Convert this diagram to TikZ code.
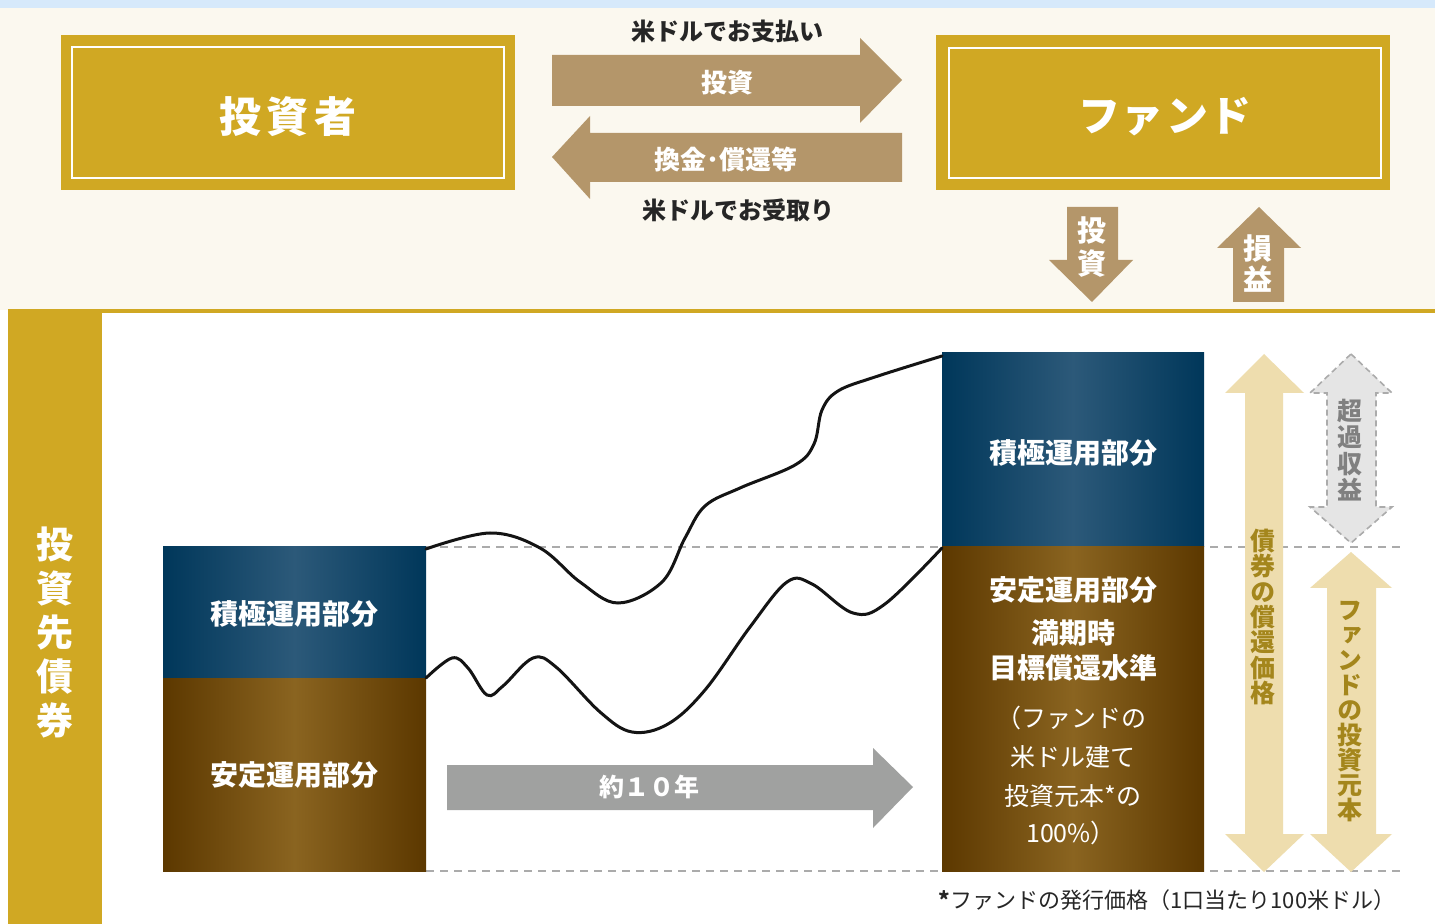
\documentclass[tikz,border=0pt]{standalone}
\usepackage{fontspec}
\setmainfont{Noto Sans CJK JP}
\newfontfamily\jpv{Noto Sans CJK JP}[RawFeature=+vert]
\definecolor{bgblue}{HTML}{D6E9FB}
\definecolor{cream}{HTML}{FBF8EF}
\definecolor{gold}{HTML}{D0A823}
\definecolor{tan}{HTML}{B4966A}
\definecolor{lighttan}{HTML}{EEDDAE}
\definecolor{grayarrow}{HTML}{A0A1A0}
\definecolor{lightgray}{HTML}{E5E5E5}
\definecolor{dashgray}{HTML}{ABABAB}
\definecolor{bluedark}{HTML}{00375A}
\definecolor{bluelight}{HTML}{2C5979}
\definecolor{browndark}{HTML}{5C3800}
\definecolor{brownlight}{HTML}{8A6420}
\definecolor{goldtext}{HTML}{A4861C}
\definecolor{textdark}{HTML}{262626}
\tikzset{
  lbl/.style={inner sep=0pt, font=\bfseries\fontsize{12}{14}\selectfont, text=textdark},
  wlbl/.style={inner sep=0pt, font=\bfseries\fontsize{13}{15}\selectfont, text=white},
  boxlbl/.style={inner sep=0pt, font=\bfseries\fontsize{14}{16}\selectfont, text=white},
  sublbl/.style={inner sep=0pt, font=\fontsize{12.5}{14}\selectfont, text=white},
  vlbl/.style={inner sep=0pt, align=center},
  curve/.style={line width=1.5pt, draw=black!92, line cap=round},
  dline/.style={draw=dashgray, line width=0.6pt, dash pattern=on 4pt off 3pt},
}
\begin{document}
\begin{tikzpicture}[x=0.5pt,y=-0.5pt]
\useasboundingbox (0,0) rectangle (1435,924);
% backgrounds
\fill[white] (0,0) rectangle (1435,924);
\fill[bgblue] (0,0) rectangle (1435,8);
\fill[cream] (0,8) rectangle (1435,310);
\fill[gold] (8,309) rectangle (1435,313);
\fill[gold] (8,309) rectangle (102,924);
% top boxes
\fill[gold] (61,35) rectangle (515,190);
\draw[white, line width=0.8pt] (72,47) rectangle (504,178);
\node[inner sep=0pt, text=white, font=\bfseries\fontsize{21}{24}\selectfont] (inv) at (288,117) {投\hspace{3pt}資\hspace{3pt}者};
\fill[gold] (936,35) rectangle (1390,190);
\draw[white, line width=0.8pt] (949,48) rectangle (1381,178);
\node[inner sep=0pt, text=white, font=\bfseries\fontsize{21}{24}\selectfont] (fund) at (1165,117) {フ\hspace{1pt}ァ\hspace{1pt}ン\hspace{1pt}ド};
% top arrows
\fill[tan] (552,55) -- (860,55) -- (860,38) -- (902,80) -- (860,123) -- (860,106) -- (552,106) -- cycle;
\fill[tan] (902,133) -- (590,133) -- (590,116) -- (552,157) -- (590,199) -- (590,182) -- (902,182) -- cycle;
\node[lbl] (pay) at (727,31) {米ドルでお支払い};
\node[wlbl] (inv1) at (727,83) {投資};
\node[wlbl] (ret) at (726,160) {換金･償還等};
\node[lbl] (recv) at (738,210) {米ドルでお受取り};
% fund down/up arrows
\fill[tan] (1067,207) -- (1118,207) -- (1118,260) -- (1133,260) -- (1092,302) -- (1049,260) -- (1067,260) -- cycle;
\node[vlbl, text=white, font={\bfseries\fontsize{14.5}{16.5}\selectfont\lineskiplimit=-20pt}] (dinv) at (1092,247) {投\\資};
\fill[tan] (1233,302) -- (1284,302) -- (1284,248) -- (1301,248) -- (1259,207) -- (1217,248) -- (1233,248) -- cycle;
\node[vlbl, text=white, font={\bfseries\fontsize{14.5}{15.5}\selectfont\lineskiplimit=-20pt}] (pl) at (1258,264) {損\\益};
% left gold bar label
\node[vlbl, text=white, font={\bfseries\fontsize{18.5}{22}\selectfont\lineskiplimit=-20pt}] (bond) at (55,632) {投\\資\\先\\債\\券};
% dashed reference lines
\draw[dline] (426,547) -- (1400,547);
\draw[dline] (426,871) -- (1400,871);
% left stacked box
\shade[left color=bluedark, right color=bluedark, middle color=bluelight] (163,547) rectangle (426,678);
\shade[left color=browndark, right color=browndark, middle color=brownlight] (163,678) rectangle (426,871);
\node[boxlbl] (lact) at (294,614) {積極運用部分};
\node[boxlbl] (lsta) at (294,775) {安定運用部分};
% right stacked box
\shade[left color=bluedark, right color=bluedark, middle color=bluelight] (942,353) rectangle (1204,547);
\shade[left color=browndark, right color=browndark, middle color=brownlight] (942,547) rectangle (1204,871);
\node[boxlbl] (ract) at (1073,453) {積極運用部分};
\node[boxlbl] (rsta) at (1073,590) {安定運用部分};
\node[boxlbl] (mat) at (1073,633) {満期時};
\node[boxlbl] (tgt) at (1073,668) {目標償還水準};
\node[sublbl] (p1) at (1071,718) {（ファンドの};
\node[sublbl] (p2) at (1073,757) {米ドル建て};
\node[sublbl] (p3) at (1073,796) {投資元本*の};
\node[sublbl] (p4) at (1071,833) {100\%）};
% curves
\draw[curve] plot[smooth, tension=0.6] coordinates {(426,549) (490,533) (540,548) (580,582) (618,603) (662,582) (685,538) (705,506) (740,488) (795,465) (814,444) (822,410) (838,391) (875,377) (942,356)};
\draw[curve] plot[smooth, tension=0.6] coordinates {(426,678) (452,658) (468,668) (487,695) (503,686) (533,658) (556,667) (600,712) (632,732) (668,724) (705,690) (750,627) (787,582) (812,584) (853,613) (885,604) (942,548)};
% period arrow
\fill[grayarrow] (447,765) -- (873,765) -- (873,748) -- (913,787) -- (873,828) -- (873,810) -- (447,810) -- cycle;
\node[inner sep=0pt, text=white, font=\bfseries\fontsize{12.5}{15}\selectfont] (yrs) at (649,787) {約１０年};
% right double arrows
\fill[lighttan] (1264,354) -- (1304,393) -- (1283,393) -- (1283,834) -- (1304,834) -- (1264,872) -- (1225,834) -- (1245,834) -- (1245,393) -- (1225,393) -- cycle;
\node[vlbl, text=goldtext, font={\jpv\bfseries\fontsize{12.5}{12.7}\selectfont\lineskiplimit=-20pt}] (bprice) at (1263,617) {債\\券\\の\\償\\還\\価\\格};
\filldraw[fill=lightgray, draw=dashgray, line width=0.8pt, dash pattern=on 3pt off 2pt] (1351,354) -- (1392,393) -- (1376,393) -- (1376,507) -- (1392,507) -- (1351,543) -- (1310,507) -- (1327,507) -- (1327,393) -- (1310,393) -- cycle;
\node[vlbl, text=black!50, font={\jpv\bfseries\fontsize{12.5}{13.2}\selectfont\lineskiplimit=-20pt}] (excess) at (1350,450) {超\\過\\収\\益};
\fill[lighttan] (1351,552) -- (1392,588) -- (1376,588) -- (1376,834) -- (1392,834) -- (1351,872) -- (1310,834) -- (1327,834) -- (1327,588) -- (1310,588) -- cycle;
\node[vlbl, text=goldtext, font={\jpv\bfseries\fontsize{12.5}{12.5}\selectfont\lineskiplimit=-20pt}] (principal) at (1350,712) {フ\\ァ\\ン\\ド\\の\\投\\資\\元\\本};
% footnote
\node[inner sep=0pt, text=textdark, font=\fontsize{11}{13}\selectfont] (note) at (1167,900) {\textbf{*}ファンドの発行価格（1口当たり100米ドル）};
\end{tikzpicture}
\end{document}
